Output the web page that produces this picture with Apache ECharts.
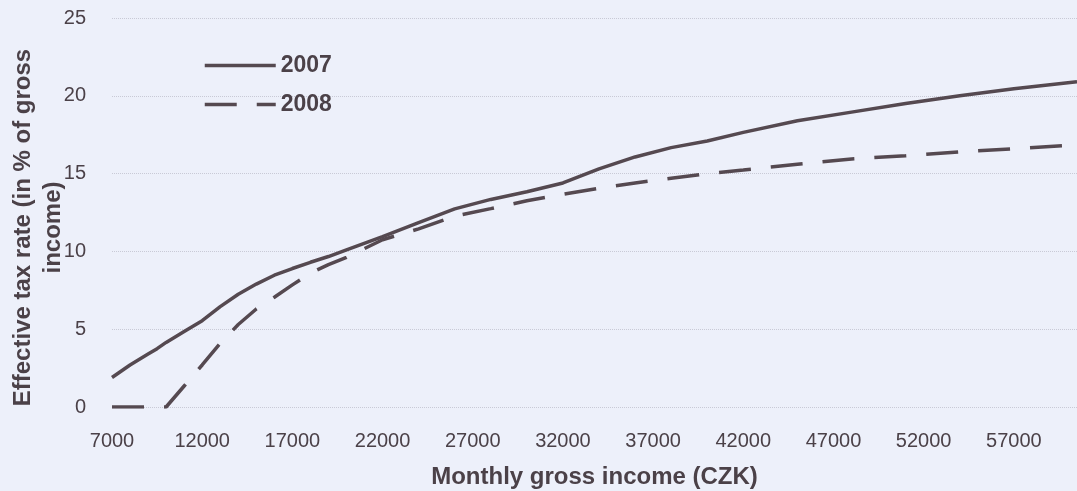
<!DOCTYPE html>
<html>
<head>
<meta charset="utf-8">
<script src="https://cdn.jsdelivr.net/npm/echarts@6/dist/echarts.min.js"></script>
<style>
html,body{margin:0;padding:0;background:#edf0fa;}
#chart{width:1077px;height:491px;}
</style>
</head>
<body>
<div id="chart"></div>
<script>
const incomes = [7000, 8000, 9000, 9500, 10000, 11000, 12000, 13000, 14000, 15000, 16000, 17000, 18000, 19000, 20000, 22000, 24000, 26000, 28000, 30000, 32000, 34000, 36000, 38000, 40000, 42000, 45000, 48000, 51000, 54000, 57000, 60500];
const rate2007 = [1.9, 2.7, 3.4, 3.75, 4.15, 4.85, 5.55, 6.45, 7.25, 7.9, 8.47, 8.9, 9.3, 9.67, 10.1, 10.95, 11.85, 12.73, 13.34, 13.83, 14.4, 15.3, 16.07, 16.67, 17.1, 17.65, 18.4, 18.95, 19.5, 20.0, 20.45, 20.9];
const rate2008 = [0, 0, 0, 0, 0, 1.35, 2.7, 4.1, 5.3, 6.3, 7.05, 7.85, 8.6, 9.15, 9.62, 10.75, 11.45, 12.26, 12.75, 13.25, 13.67, 14.06, 14.4, 14.7, 15.0, 15.23, 15.6, 15.94, 16.15, 16.4, 16.6, 16.85];
const seriesNames = ['2007', '2008'];
const xTicks = [7000, 12000, 17000, 22000, 27000, 32000, 37000, 42000, 47000, 52000, 57000];

const lineColor = '#554950';
const textColor = '#4b4148';
const font = "'Liberation Sans', Arial, sans-serif";

const chart = echarts.init(document.getElementById('chart'));
chart.setOption({
  backgroundColor: '#edf0fa',
  animation: false,
  grid: {left: 112, right: 0, top: 18, bottom: 84, containLabel: false, outerBoundsMode: 'none'},
  legend: {
    orient: 'vertical',
    left: 203,
    top: 54,
    padding: 0,
    itemWidth: 71,
    itemHeight: 22,
    itemGap: 16,
    itemStyle: {opacity: 0},
    lineStyle: {width: 3.5},
    textStyle: {color: textColor, fontFamily: font, fontSize: 23, fontWeight: 'bold'},
    data: seriesNames
  },
  xAxis: {
    type: 'value',
    min: 7000,
    max: 60500,
    interval: 5000,
    name: 'Monthly gross income (CZK)',
    nameLocation: 'middle',
    nameGap: 58,
    nameMoveOverlap: false,
    nameTextStyle: {color: textColor, fontFamily: font, fontSize: 24, fontWeight: 'bold'},
    axisLine: {show: false},
    axisTick: {show: false},
    splitLine: {show: false},
    axisLabel: {
      color: textColor, fontFamily: font, fontSize: 20, margin: 24,
      showMaxLabel: false,
      formatter: v => xTicks.includes(v) ? String(v) : ''
    }
  },
  yAxis: {
    type: 'value',
    min: 0,
    max: 25,
    interval: 5,
    name: 'Effective tax rate (in % of gross\nincome)',
    nameLocation: 'middle',
    nameRotate: 90,
    nameGap: 44,
    nameMoveOverlap: false,
    nameTextStyle: {color: textColor, fontFamily: font, fontSize: 24, fontWeight: 'bold', lineHeight: 30, padding: [0, 30, 0, 0]},
    axisLine: {show: false},
    axisTick: {show: false},
    splitLine: {show: true, lineStyle: {color: '#c9cad6', type: 'dotted', width: 1}},
    axisLabel: {color: textColor, fontFamily: font, fontSize: 20, margin: 26}
  },
  series: [
    {
      name: seriesNames[0],
      type: 'line',
      symbol: 'none',
      data: incomes.map((x, i) => [x, rate2007[i]]),
      lineStyle: {color: lineColor, width: 3.5, type: 'solid'},
      itemStyle: {color: lineColor}
    },
    {
      name: seriesNames[1],
      type: 'line',
      symbol: 'none',
      data: incomes.map((x, i) => [x, rate2008[i]]),
      lineStyle: {color: lineColor, width: 3.5, type: [32, 20]},
      itemStyle: {color: lineColor}
    }
  ]
});
</script>
</body>
</html>
